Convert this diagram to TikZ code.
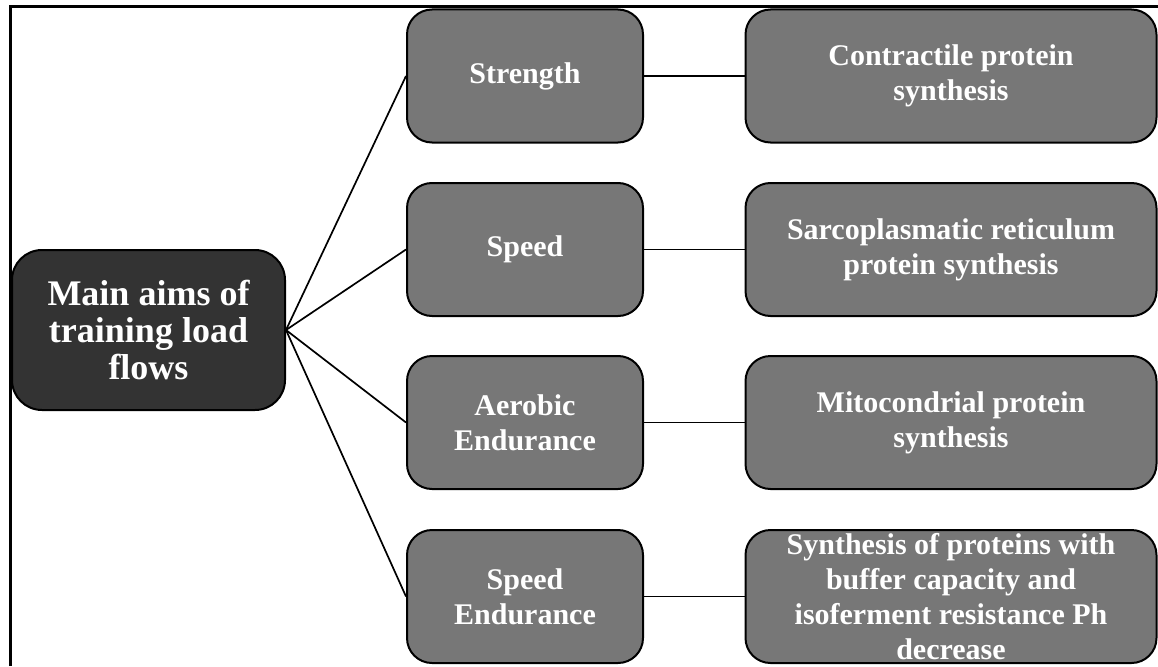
\documentclass[tikz,border=0pt]{standalone}
\usepackage{fontspec}
\setmainfont{Liberation Serif}
\usetikzlibrary{positioning}
\definecolor{cdark}{HTML}{333333}
\definecolor{cmid}{HTML}{777777}
\tikzset{
  every picture/.style={line width=2pt},
  box/.style={draw=black, fill=#1, rounded corners=25pt, align=center, text=white, font=\fontsize{30}{35}\selectfont\bfseries, inner sep=4pt},
  box/.default=cmid,
  aim/.style={box, minimum width=236pt, minimum height=133pt},
  effect/.style={box, minimum width=411pt, minimum height=133pt},
  link/.style={draw=black, line width=1.7pt},
}
\begin{document}
\begin{tikzpicture}[x=1pt, y=-1pt]
  \useasboundingbox (0,0) rectangle (1158,666);
  % outer frame
  \draw[line width=3pt] (10,666) -- (10,7) -- (1158,7);
  \node[box=cdark, minimum width=273pt, minimum height=160pt, rounded corners=30pt, font=\fontsize{36}{37}\selectfont\bfseries] (main) at (148.5,330) {Main aims of\\training load\\flows};
  % aims
  \node[aim] (str) at (525,76) {Strength};
  \node[aim] (spd) at (525,249.5) {Speed};
  \node[aim] (aer) at (525,422.5) {Aerobic\\Endurance};
  \node[aim] (spe) at (525,596.5) {Speed\\Endurance};
  % protein synthesis
  \node[effect] (con) at (951,76) {Contractile protein\\synthesis};
  \node[effect] (sar) at (951,249.5) {Sarcoplasmatic reticulum\\protein synthesis};
  \node[effect] (mit) at (951,422.5) {Mitocondrial protein\\synthesis};
  \node[effect, inner ysep=1pt] (buf) at (951,596.5) {Synthesis of proteins with\\buffer capacity and\\isoferment resistance Ph\\decrease};
  \foreach \k in {str, spd, aer, spe} \draw[link] (main.east) -- (\k.west);
  \foreach \a/\b in {str/con, spd/sar, aer/mit, spe/buf} \draw[link] (\a) -- (\b);
\end{tikzpicture}
\end{document}
